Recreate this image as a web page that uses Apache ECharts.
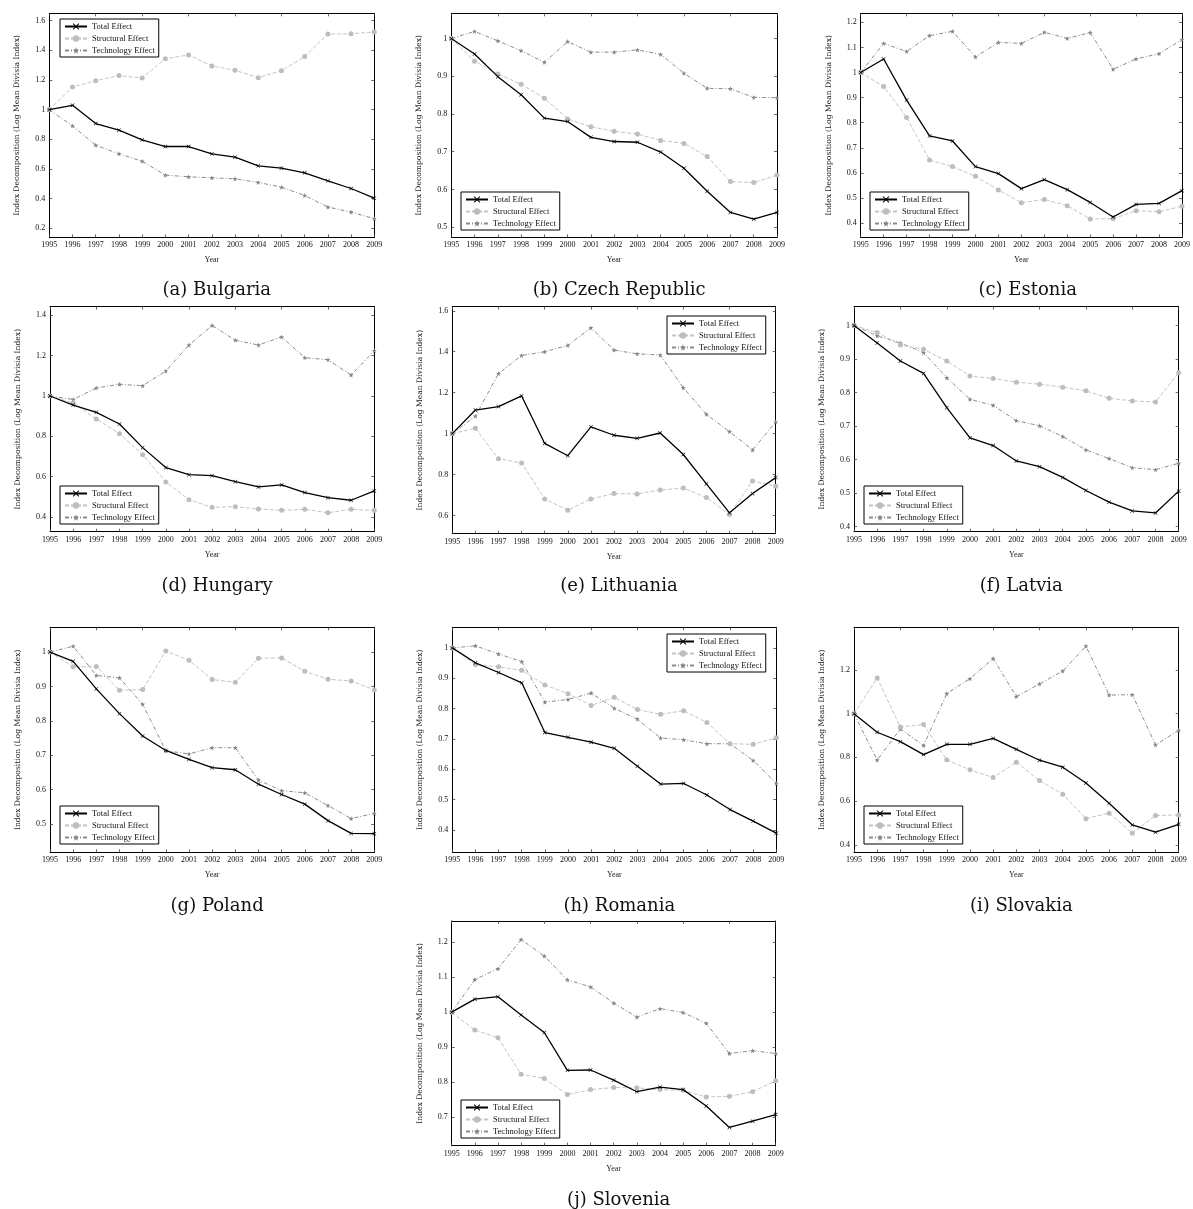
<!DOCTYPE html>
<html>
<head>
<meta charset="utf-8">
<script src="https://cdn.jsdelivr.net/npm/echarts@6/dist/echarts.min.js"></script>
<style>
  html, body { margin: 0; padding: 0; background: #fff; }
  #chart { width: 1193px; height: 1209px; }
</style>
</head>
<body>
<div id="chart"></div>
<script>
// years on the x axis
const years = ['1995','1996','1997','1998','1999','2000','2001','2002','2003','2004','2005','2006','2007','2008','2009'];
const seriesNames = ['Total Effect', 'Structural Effect', 'Technology Effect'];

// (a) Bulgaria
const bgTotal      = [1.0, 1.03, 0.907, 0.862, 0.797, 0.752, 0.752, 0.703, 0.680, 0.622, 0.606, 0.575, 0.521, 0.469, 0.404];
const bgStructural = [1.0, 1.153, 1.196, 1.230, 1.214, 1.344, 1.369, 1.295, 1.266, 1.216, 1.263, 1.358, 1.510, 1.512, 1.524];
const bgTechnology = [1.0, 0.891, 0.761, 0.703, 0.653, 0.559, 0.548, 0.541, 0.534, 0.510, 0.478, 0.422, 0.344, 0.310, 0.265];
const bgTicks = [0.2, 0.4, 0.6, 0.8, 1.0, 1.2, 1.4, 1.6];

// (b) Czech Republic
const czTotal      = [1.0, 0.959, 0.899, 0.851, 0.789, 0.780, 0.738, 0.727, 0.725, 0.699, 0.656, 0.595, 0.539, 0.521, 0.539];
const czStructural = [1.0, 0.940, 0.906, 0.879, 0.842, 0.787, 0.766, 0.754, 0.747, 0.730, 0.722, 0.687, 0.621, 0.618, 0.638];
const czTechnology = [1.0, 1.019, 0.994, 0.968, 0.937, 0.992, 0.964, 0.964, 0.970, 0.958, 0.908, 0.868, 0.867, 0.844, 0.843];
const czTicks = [0.5, 0.6, 0.7, 0.8, 0.9, 1.0];

// (c) Estonia
const eeTotal      = [1.0, 1.054, 0.890, 0.747, 0.727, 0.625, 0.597, 0.537, 0.573, 0.533, 0.482, 0.424, 0.474, 0.478, 0.529];
const eeStructural = [1.0, 0.944, 0.821, 0.651, 0.625, 0.586, 0.532, 0.481, 0.494, 0.469, 0.416, 0.417, 0.449, 0.445, 0.467];
const eeTechnology = [1.0, 1.116, 1.084, 1.147, 1.164, 1.062, 1.120, 1.116, 1.160, 1.136, 1.159, 1.013, 1.054, 1.075, 1.131];
const eeTicks = [0.4, 0.5, 0.6, 0.7, 0.8, 0.9, 1.0, 1.1, 1.2];

// (d) Hungary
const huTotal      = [1.0, 0.955, 0.919, 0.861, 0.744, 0.645, 0.610, 0.605, 0.575, 0.549, 0.559, 0.521, 0.496, 0.483, 0.529];
const huStructural = [1.0, 0.965, 0.886, 0.813, 0.709, 0.574, 0.486, 0.448, 0.451, 0.440, 0.433, 0.438, 0.421, 0.438, 0.433];
const huTechnology = [1.0, 0.983, 1.040, 1.058, 1.051, 1.124, 1.253, 1.350, 1.277, 1.253, 1.293, 1.190, 1.180, 1.104, 1.225];
const huTicks = [0.4, 0.6, 0.8, 1.0, 1.2, 1.4];

// (e) Lithuania
const ltTotal      = [1.0, 1.115, 1.132, 1.184, 0.952, 0.892, 1.033, 0.992, 0.977, 1.003, 0.898, 0.754, 0.613, 0.707, 0.785];
const ltStructural = [1.0, 1.026, 0.877, 0.857, 0.681, 0.626, 0.681, 0.707, 0.705, 0.724, 0.734, 0.688, 0.605, 0.769, 0.743];
const ltTechnology = [1.0, 1.085, 1.293, 1.382, 1.400, 1.431, 1.517, 1.408, 1.390, 1.384, 1.224, 1.094, 1.010, 0.920, 1.057];
const ltTicks = [0.6, 0.8, 1.0, 1.2, 1.4, 1.6];

// (f) Latvia
const lvTotal      = [1.0, 0.948, 0.894, 0.857, 0.755, 0.665, 0.642, 0.596, 0.579, 0.547, 0.508, 0.473, 0.447, 0.441, 0.506];
const lvStructural = [1.0, 0.979, 0.942, 0.929, 0.894, 0.849, 0.842, 0.831, 0.825, 0.816, 0.805, 0.783, 0.775, 0.772, 0.859];
const lvTechnology = [1.0, 0.969, 0.948, 0.919, 0.844, 0.780, 0.762, 0.716, 0.701, 0.669, 0.629, 0.603, 0.576, 0.570, 0.589];
const lvTicks = [0.4, 0.5, 0.6, 0.7, 0.8, 0.9, 1.0];

// (g) Poland
const plTotal      = [1.0, 0.973, 0.893, 0.821, 0.756, 0.714, 0.688, 0.664, 0.658, 0.616, 0.586, 0.558, 0.510, 0.473, 0.472];
const plStructural = [1.0, 0.957, 0.958, 0.889, 0.891, 1.003, 0.976, 0.920, 0.912, 0.982, 0.983, 0.944, 0.921, 0.916, 0.890];
const plTechnology = [1.0, 1.017, 0.932, 0.925, 0.848, 0.713, 0.704, 0.722, 0.722, 0.628, 0.597, 0.591, 0.554, 0.516, 0.531];
const plTicks = [0.5, 0.6, 0.7, 0.8, 0.9, 1.0];

// (h) Romania
const roTotal      = [1.0, 0.951, 0.919, 0.885, 0.721, 0.705, 0.689, 0.669, 0.610, 0.551, 0.553, 0.515, 0.467, 0.429, 0.389];
const roStructural = [1.0, 0.945, 0.938, 0.926, 0.878, 0.849, 0.810, 0.837, 0.797, 0.781, 0.793, 0.754, 0.684, 0.682, 0.704];
const roTechnology = [1.0, 1.007, 0.980, 0.955, 0.821, 0.830, 0.851, 0.801, 0.765, 0.703, 0.697, 0.684, 0.684, 0.629, 0.553];
const roTicks = [0.4, 0.5, 0.6, 0.7, 0.8, 0.9, 1.0];

// (i) Slovakia
const skTotal      = [1.0, 0.915, 0.872, 0.813, 0.860, 0.860, 0.887, 0.837, 0.787, 0.755, 0.683, 0.590, 0.491, 0.458, 0.494];
const skStructural = [1.0, 1.163, 0.939, 0.950, 0.789, 0.743, 0.708, 0.778, 0.694, 0.632, 0.520, 0.545, 0.453, 0.534, 0.537];
const skTechnology = [1.0, 0.788, 0.930, 0.854, 1.092, 1.160, 1.252, 1.078, 1.136, 1.195, 1.309, 1.085, 1.087, 0.857, 0.924];
const skTicks = [0.4, 0.6, 0.8, 1.0, 1.2];

// (j) Slovenia
const siTotal      = [1.0, 1.037, 1.044, 0.992, 0.942, 0.834, 0.835, 0.806, 0.773, 0.786, 0.779, 0.732, 0.671, 0.689, 0.708];
const siStructural = [1.0, 0.949, 0.927, 0.823, 0.811, 0.765, 0.779, 0.785, 0.784, 0.779, 0.777, 0.758, 0.760, 0.773, 0.804];
const siTechnology = [1.0, 1.093, 1.124, 1.207, 1.160, 1.092, 1.072, 1.026, 0.986, 1.010, 0.999, 0.968, 0.882, 0.890, 0.882];
const siTicks = [0.7, 0.8, 0.9, 1.0, 1.1, 1.2];

// panel layout: grid box, y range, legend corner, caption
const panels = [
  { caption: '(a) Bulgaria',       data: [bgTotal, bgStructural, bgTechnology], ticks: bgTicks, min: 0.14,  max: 1.65,  box: [49.3, 13.3, 325, 224],    legend: [60, 19],    capY: 287 },
  { caption: '(b) Czech Republic', data: [czTotal, czStructural, czTechnology], ticks: czTicks, min: 0.473, max: 1.067, box: [451.3, 13.3, 325.7, 224], legend: [461, 192],  capY: 287 },
  { caption: '(c) Estonia',        data: [eeTotal, eeStructural, eeTechnology], ticks: eeTicks, min: 0.343, max: 1.236, box: [860.7, 13.3, 324, 224],   legend: [870, 192],  capY: 287 },
  { caption: '(d) Hungary',        data: [huTotal, huStructural, huTechnology], ticks: huTicks, min: 0.327, max: 1.443, box: [50, 306.7, 324.3, 225],   legend: [60, 486],   capY: 583 },
  { caption: '(e) Lithuania',      data: [ltTotal, ltStructural, ltTechnology], ticks: ltTicks, min: 0.511, max: 1.62,  box: [452.3, 306.7, 323.4, 227],legend: [667, 316],  capY: 583 },
  { caption: '(f) Latvia',         data: [lvTotal, lvStructural, lvTechnology], ticks: lvTicks, min: 0.385, max: 1.056, box: [854, 306.7, 324.7, 225],  legend: [864, 486],  capY: 583 },
  { caption: '(g) Poland',         data: [plTotal, plStructural, plTechnology], ticks: plTicks, min: 0.418, max: 1.072, box: [50, 627.3, 324.3, 225],   legend: [60, 806],   capY: 903 },
  { caption: '(h) Romania',        data: [roTotal, roStructural, roTechnology], ticks: roTicks, min: 0.326, max: 1.068, box: [452.3, 627.3, 324, 225],  legend: [667, 634],  capY: 903 },
  { caption: '(i) Slovakia',       data: [skTotal, skStructural, skTechnology], ticks: skTicks, min: 0.366, max: 1.395, box: [854, 627.3, 324.7, 225],  legend: [864, 806],  capY: 903 },
  { caption: '(j) Slovenia',       data: [siTotal, siStructural, siTechnology], ticks: siTicks, min: 0.619, max: 1.26,  box: [451.7, 921, 324, 224.7],  legend: [461, 1100], capY: 1197 }
];

const serif = 'Liberation Serif';
const crossPath = 'path://M0,1L1,0L5,4L9,0L10,1L6,5L10,9L9,10L5,6L1,10L0,9L4,5Z';
const starPath = 'path://M5,0L6.2,3.5L10,3.8L7,6.2L8,10L5,7.8L2,10L3,6.2L0,3.8L3.8,3.5Z';

// line look of each effect
const styles = [
  { color: '#000', line: { color: '#000', width: 1.3, type: 'solid' }, symbol: crossPath, size: 4 },
  { color: '#bdbdbd', line: { color: '#c4c4c4', width: 1, type: [4, 2] }, symbol: 'circle', size: 5 },
  { color: '#858585', line: { color: '#8c8c8c', width: 1, type: [4, 2, 1, 2] }, symbol: starPath, size: 5 }
];

const fmt = v => String(Math.round(v * 10) / 10);

const grid = [], xAxis = [], yAxis = [], series = [], legend = [], title = [];

panels.forEach((p, i) => {
  const [left, top, width, height] = p.box;
  grid.push({ left, top, width, height, containLabel: false });

  const tickStyle = { show: true, inside: true, length: 3, lineStyle: { color: '#444', width: 0.8 } };
  const lineStyle = { show: true, lineStyle: { color: '#000', width: 1 } };

  xAxis.push({
    type: 'category', gridIndex: i, data: years, boundaryGap: false,
    axisLine: lineStyle, axisTick: tickStyle, splitLine: { show: false },
    axisLabel: { interval: 0, fontFamily: serif, fontSize: 8, color: '#111', margin: 4 },
    name: 'Year', nameLocation: 'middle', nameGap: 19,
    nameTextStyle: { fontFamily: serif, fontSize: 8, color: '#222' }
  });
  xAxis.push({
    type: 'category', gridIndex: i, data: years, boundaryGap: false, position: 'top',
    axisLine: lineStyle, axisTick: tickStyle, axisLabel: { show: false }, splitLine: { show: false }
  });

  yAxis.push({
    type: 'value', gridIndex: i, min: p.min, max: p.max,
    axisLine: lineStyle, splitLine: { show: false },
    axisTick: Object.assign({ customValues: p.ticks }, tickStyle),
    axisLabel: { customValues: p.ticks, formatter: fmt, fontFamily: serif, fontSize: 8, color: '#111', margin: 4 },
    name: 'Index Decomposition (Log Mean Divisia Index)', nameLocation: 'middle', nameGap: 28,
    nameTextStyle: { fontFamily: 'DejaVu Serif', fontSize: 7.6, color: '#222' }
  });
  yAxis.push({
    type: 'value', gridIndex: i, min: p.min, max: p.max, position: 'right',
    axisLine: lineStyle, splitLine: { show: false },
    axisTick: Object.assign({ customValues: p.ticks }, tickStyle),
    axisLabel: { show: false }
  });

  p.data.forEach((values, k) => {
    const s = styles[k];
    series.push({
      name: seriesNames[k], type: 'line', xAxisIndex: 2 * i, yAxisIndex: 2 * i,
      data: values, symbol: s.symbol, symbolSize: s.size, showSymbol: true,
      itemStyle: { color: s.color }, lineStyle: s.line, z: 3 - k, animation: false
    });
  });

  legend.push({
    left: p.legend[0], top: p.legend[1], orient: 'vertical',
    data: seriesNames, backgroundColor: '#fff',
    borderColor: '#000', borderWidth: 1, padding: [3, 4, 2, 4], itemGap: 3,
    itemWidth: 22, itemHeight: 8, selectedMode: false,
    textStyle: { fontFamily: serif, fontSize: 8.5, color: '#111', width: 66, align: 'center' }
  });

  title.push({
    text: p.caption, left: left + width / 2, top: p.capY - 11, textAlign: 'center',
    textStyle: { fontFamily: 'DejaVu Serif', fontSize: 18, fontWeight: 'normal', color: '#111' }
  });
});

const chart = echarts.init(document.getElementById('chart'), null, { renderer: 'canvas' });
chart.setOption({ animation: false, backgroundColor: '#fff', grid, xAxis, yAxis, series, legend, title });
</script>
</body>
</html>
